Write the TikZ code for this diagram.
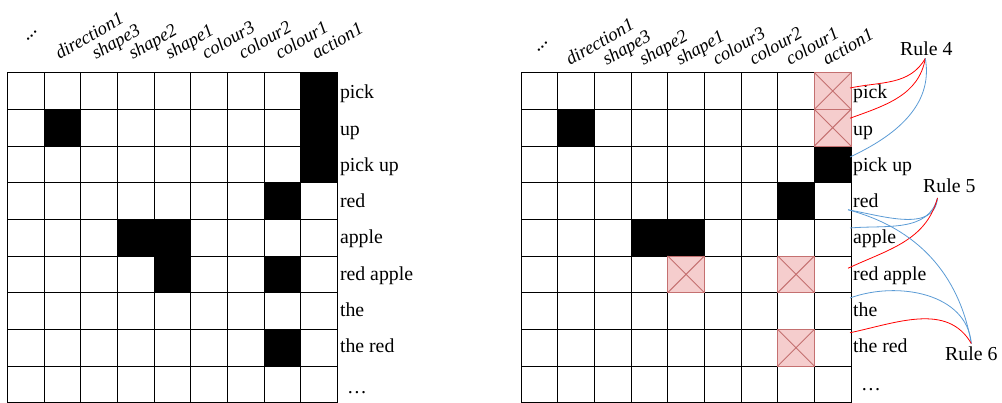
\documentclass[tikz,border=0pt]{standalone}
\usepackage{fontspec}
\setmainfont{Liberation Serif}
\newfontfamily\tms{Liberation Serif}
\usetikzlibrary{calc}
\definecolor{pinkfill}{RGB}{245,205,205}
\definecolor{pinkdraw}{RGB}{196,112,112}
\definecolor{ruleblue}{RGB}{91,155,213}
\definecolor{rulered}{RGB}{255,0,0}
\def\cs{36.67}
\def\gt{72.67}
\def\LX{7.33}
\def\RX{521}
\tikzset{
  gridline/.style={line width=0.9pt, black, line cap=rect},
  blackcell/.style={fill=black},
  crossbox/.style={rectangle, minimum size=36.67pt, inner sep=0pt, outer sep=0pt, fill=pinkfill, draw=pinkdraw, line width=0.9pt},
  crossline/.style={draw=pinkdraw, line width=0.9pt},
  colhead/.style={rotate=30, anchor=base west, inner sep=0pt, font=\tms\fontsize{18.5}{20}\selectfont\itshape},
  dothead/.style={rotate=45, inner sep=0pt, font=\tms\fontsize{19.8}{20}\selectfont},
  rowlab/.style={anchor=base west, inner sep=0pt, font=\tms\fontsize{19.8}{22}\selectfont},
  rulelab/.style={anchor=base west, inner sep=0pt, font=\tms\fontsize{19.8}{22}\selectfont},
  redlink/.style={rulered, line width=0.8pt},
  bluelink/.style={ruleblue, line width=0.8pt}
}
\begin{document}
\begin{tikzpicture}[x=1pt,y=1pt]
\useasboundingbox (0,0) rectangle (1002,-403);

% black cells, left grid
\foreach \c/\r in {8/0,8/1,8/2,1/1,7/3,3/4,4/4,4/5,7/5,7/7}
  \fill[blackcell] ({\LX+\c*\cs},{-\gt-\r*\cs}) rectangle ++(\cs,-\cs);
% black cells, right grid
\foreach \c/\r in {1/1,8/2,7/3,3/4,4/4}
  \fill[blackcell] ({\RX+\c*\cs},{-\gt-\r*\cs}) rectangle ++(\cs,-\cs);

% grid lines
\foreach \X in {\LX,\RX}{
  \foreach \i in {0,...,9}{
    \draw[gridline] ({\X+\i*\cs},{-\gt}) -- ({\X+\i*\cs},{-\gt-9*\cs});
    \draw[gridline] (\X,{-\gt-\i*\cs}) -- ({\X+9*\cs},{-\gt-\i*\cs});
  }
}

% crossed cells, right grid
\foreach \c/\r in {8/0,8/1,4/5,7/5,7/7}{
  \node[crossbox] (Rx\c\r) at ({\RX+(\c+0.5)*\cs},{-\gt-(\r+0.5)*\cs}) {};
  \draw[crossline] (Rx\c\r.north west) -- (Rx\c\r.south east)
                   (Rx\c\r.north east) -- (Rx\c\r.south west);
}

% column headers
\foreach \c/\t in {1/direction1,2/shape3,3/shape2,4/shape1,5/colour3,6/colour2,7/colour1,8/action1}{
  \node[colhead] (Lh\c) at ({\LX+(\c+0.5)*\cs-3},-60) {\t};
  \node[colhead] (Rh\c) at ({\RX+(\c+0.5)*\cs-6},-66) {\t};
}
\node[dothead] (Lh0) at (31.7,-36) {...};
\node[dothead] (Rh0) at (542.5,-47) {...};

% row labels
\foreach \n/\t [count=\i from 0] in {pick/pick,up/up,pickup/pick up,red/red,apple/apple,redapple/red apple,the/the,thered/the red}{
  \node[rowlab] (L\n) at (339.8,{-99-\i*36.25}) {\t};
  \node[rowlab] (R\n) at (853,{-99-\i*36.25}) {\t};
}
\node[rowlab] (Ldots) at (347,-394) {\ldots};
\node[rowlab] (Rdots) at (861,-391) {\ldots};

% rule labels
\node[rulelab] (Rule4) at (900,-56) {Rule 4};
\node[rulelab] (Rule5) at (923,-193) {Rule 5};
\node[rulelab] (Rule6) at (945,-361) {Rule 6};

\coordinate (r4) at ($(Rule4.south)+(-1,-2)$);
\coordinate (r5) at ($(Rule5.base west)+(14.5,-5)$);
\coordinate (r6) at ($(Rule6.north)+(0,3.5)$);

\coordinate (epick) at ($(Rpick.base west)+(-3,11)$);
\coordinate (eup) at ($(Rup.base west)+(-3,17)$);
\coordinate (epickup) at ($(Rpickup.base west)+(-3,14.5)$);
\coordinate (ered) at ($(Rred.base west)+(-5,-2)$);
\coordinate (eapple) at ($(Rapple.base west)+(-3,16)$);
\coordinate (eredapple) at ($(Rredapple.base west)+(-5,12)$);
\coordinate (ethe) at ($(Rthe.base west)+(-3,18.5)$);
\coordinate (ethered) at ($(Rthered.base west)+(-3,20)$);

% Rule 4 links
\draw[redlink] (epick) to[out=12,in=-120] (r4);
\draw[redlink] (eup) to[out=20,in=-100] (r4);
\draw[bluelink] (epickup) to[out=25,in=-80] (r4);
% Rule 5 links
\draw[bluelink] (ered) to[out=-10,in=-95] (r5);
\draw[bluelink] (eapple) to[out=5,in=-105] (r5);
\draw[redlink] (eredapple) to[out=25,in=-105] (r5);
% Rule 6 links
\draw[bluelink] (ered) to[out=-15,in=100] (r6);
\draw[bluelink] (ethe) to[out=20,in=95] (r6);
\draw[redlink] (ethered) to[out=12,in=120] (r6);
\end{tikzpicture}
\end{document}
